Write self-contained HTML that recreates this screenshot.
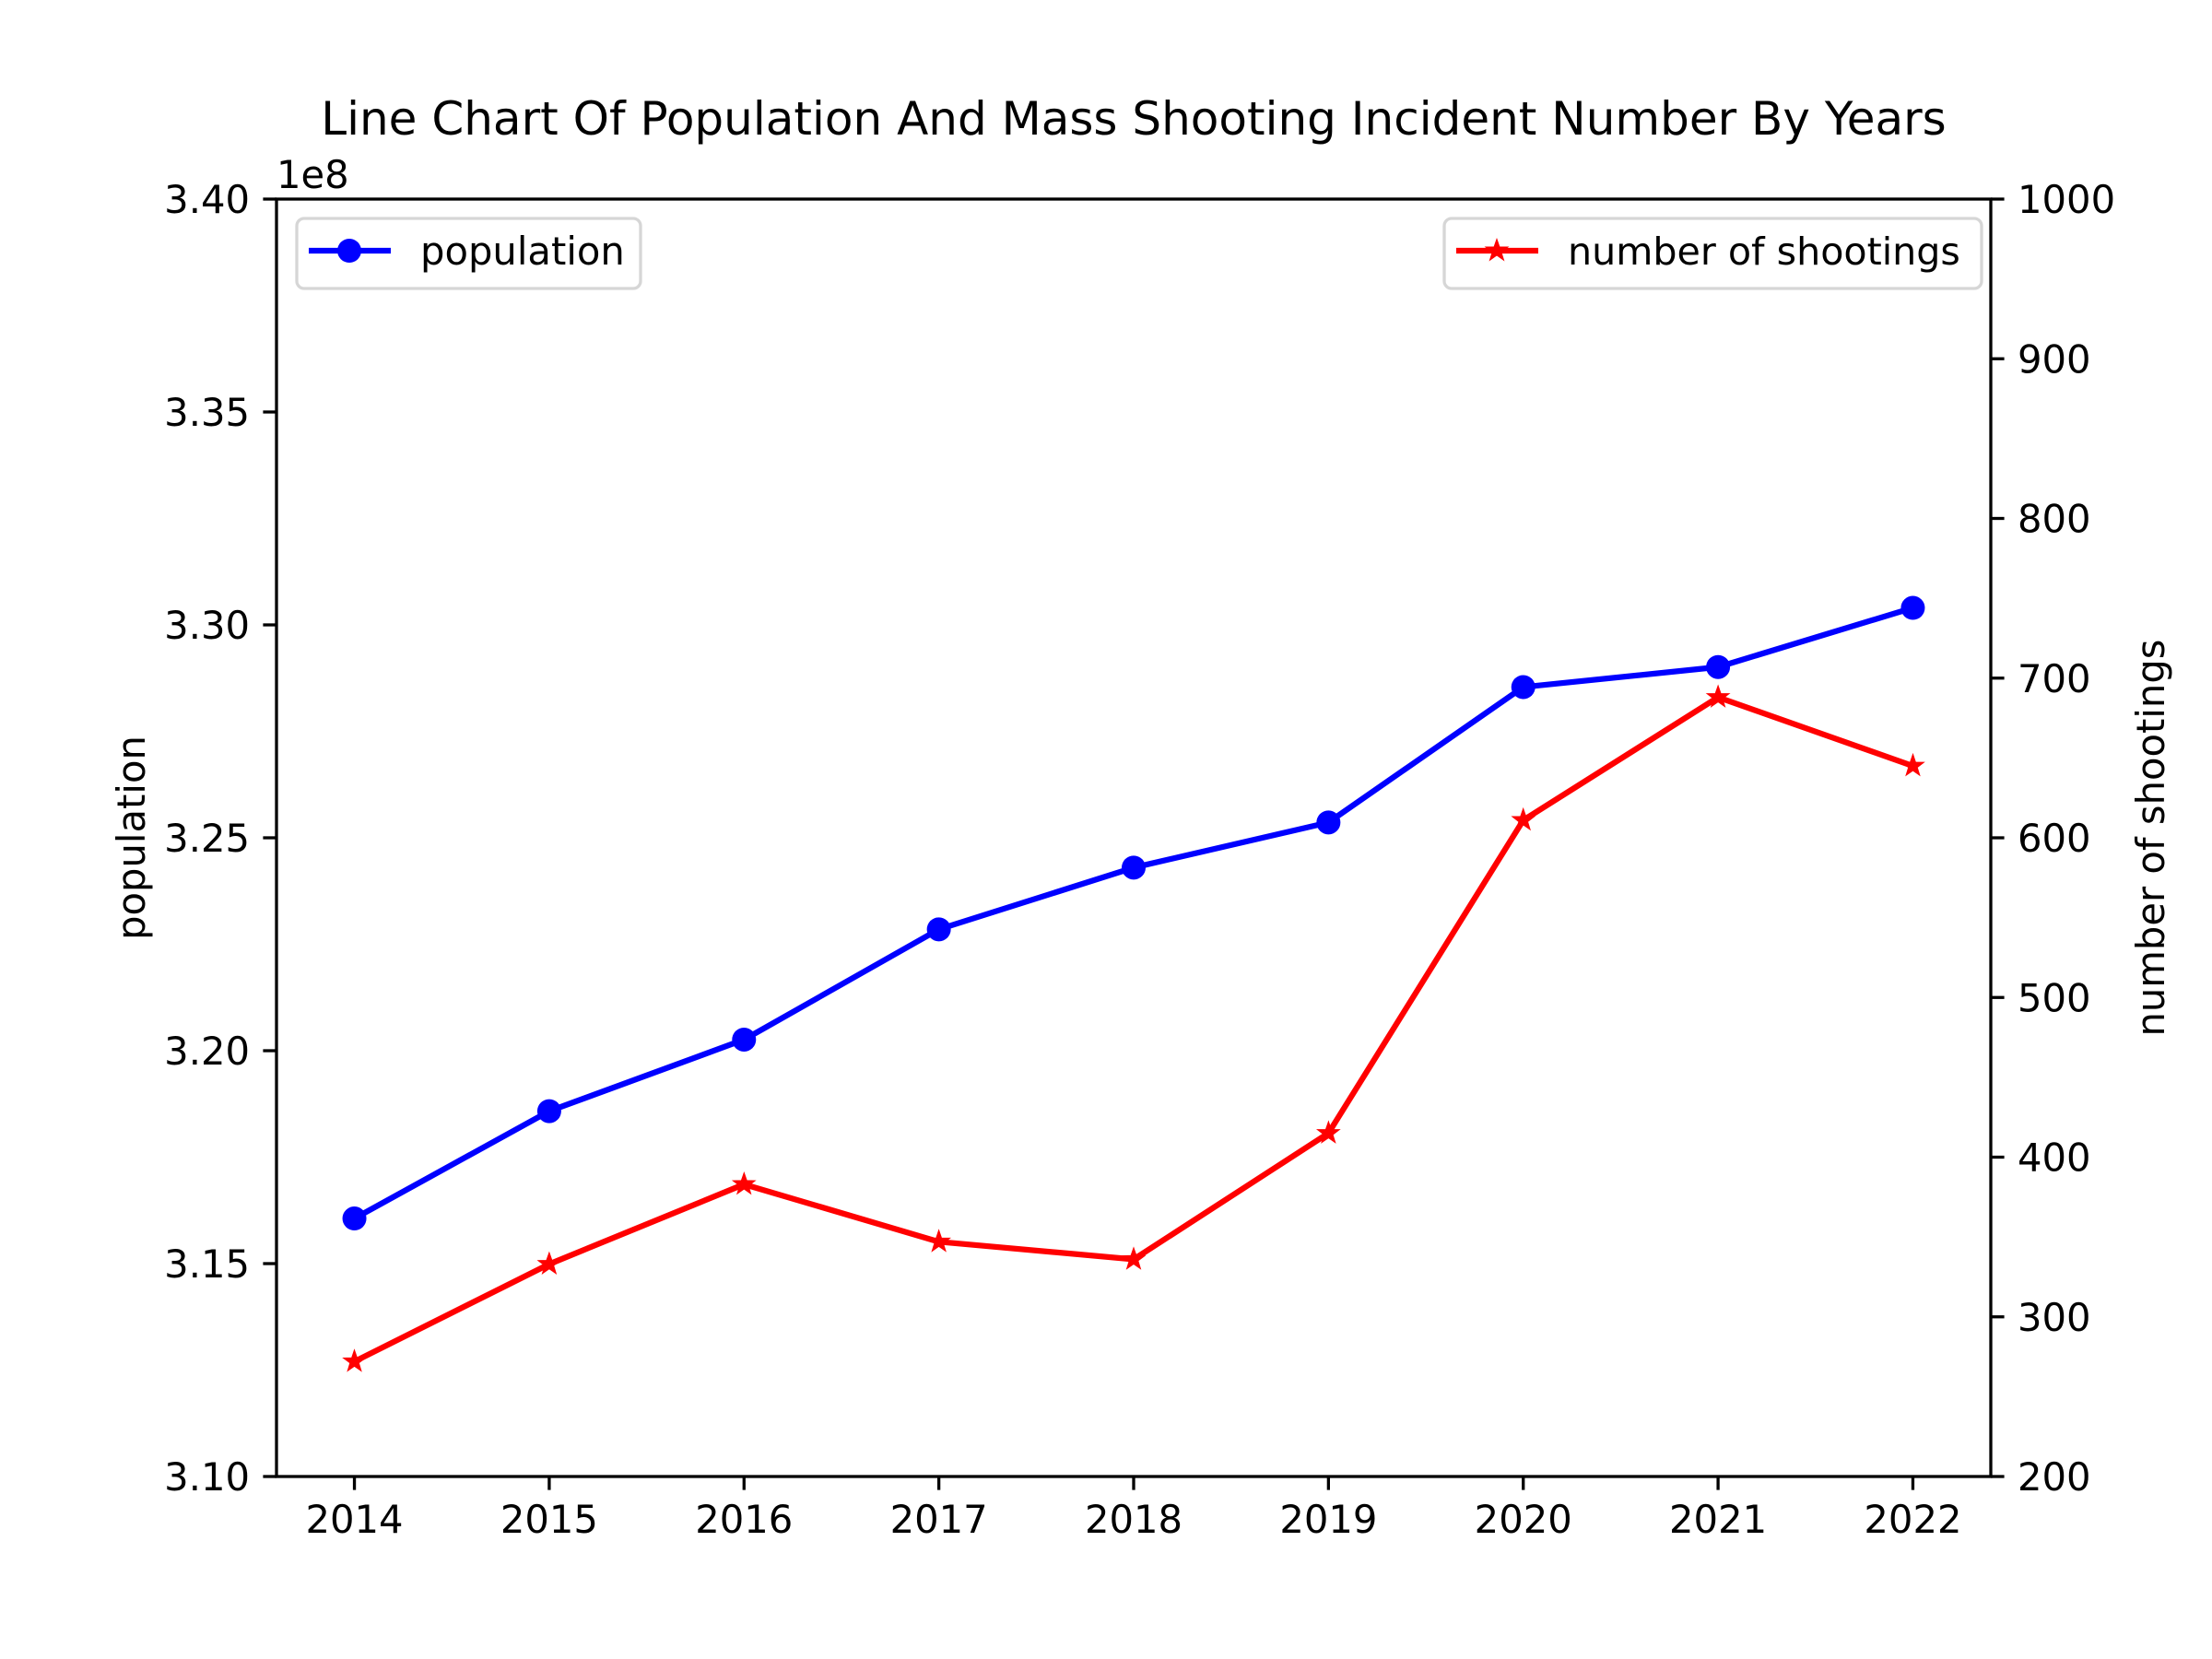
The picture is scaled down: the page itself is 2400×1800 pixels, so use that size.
<!DOCTYPE html>
<html><head><meta charset="utf-8"><style>html,body{margin:0;padding:0;background:#fff}svg{display:block}text{font-family:"DejaVu Sans","Liberation Sans",sans-serif;fill:#000}</style></head>
<body>
<svg id="chart" width="2400" height="1800" viewBox="0 0 2400 1800" xmlns="http://www.w3.org/2000/svg">
<rect width="2400" height="1800" fill="#fff"/>
<text x="1230" y="146" font-size="50" text-anchor="middle">Line Chart Of Population And Mass Shooting Incident Number By Years</text>
<g id="grid"></g>
<g id="series"></g>
<rect x="300" y="216" width="1860" height="1386" fill="none" stroke="#000" stroke-width="3.3"/>
<g id="axes"></g>
<text transform="translate(157,909) rotate(-90)" font-size="41.7" text-anchor="middle">population</text>
<text transform="translate(2348,909) rotate(-90)" font-size="41.7" text-anchor="middle">number of shootings</text>
<text x="300" y="204" font-size="41.7">1e8</text>
<g>
<rect x="322" y="237" width="373" height="76" rx="8" fill="#fff" fill-opacity="0.8" stroke="#d6d6d6" stroke-width="3.3"/>
<line x1="335" y1="272" x2="424" y2="272" stroke="#0000ff" stroke-width="6.25"/>
<circle cx="379" cy="272" r="13" fill="#0000ff"/>
<text x="456" y="287" font-size="41.7">population</text>
</g>
<g>
<rect x="1567" y="237" width="583" height="76" rx="8" fill="#fff" fill-opacity="0.8" stroke="#d6d6d6" stroke-width="3.3"/>
<line x1="1580" y1="272" x2="1669" y2="272" stroke="#ff0000" stroke-width="6.25"/>
<path d="M1624,261 L1626.6,268.5 L1634.5,268.5 L1628.2,273.3 L1630.6,281 L1624,276.3 L1617.4,281 L1619.8,273.3 L1613.5,268.5 L1621.4,268.5 Z" fill="#ff0000" stroke="#ff0000" stroke-width="2"/>
<text x="1701" y="287" font-size="41.2">number of shootings</text>
</g>
</svg>
<script>
const years = [2014,2015,2016,2017,2018,2019,2020,2021,2022];
const population = [3.1606e8,3.1858e8,3.2026e8,3.2285e8,3.2430e8,3.2536e8,3.2854e8,3.2901e8,3.3040e8];
const shootings = [272,333,383,347,336,415,611,688,645];
const leftTicks = [3.10,3.15,3.20,3.25,3.30,3.35,3.40];
const rightTicks = [200,300,400,500,600,700,800,900,1000];
const NS='http://www.w3.org/2000/svg';
const L=300,R=2160,T=216,B=1602;
const x=v=>L+(v-2013.6)/8.8*(R-L);
const yl=v=>B-(v/1e8-3.10)/0.30*(B-T);
const yr=v=>B-(v-200)/800*(B-T);
function mk(tag,attrs,parent){const e=document.createElementNS(NS,tag);for(const k in attrs)e.setAttribute(k,attrs[k]);parent.appendChild(e);return e;}
const axes=document.getElementById('axes'),ser=document.getElementById('series');
years.forEach(yv=>{const px=x(yv);
const t=mk('line',{x1:px,x2:px,y1:B,y2:B+14.6,stroke:'#000','stroke-width':3.3},axes);


const lb=mk('text',{x:px,y:B+61,'font-size':41.7,'text-anchor':'middle'},axes);lb.textContent=yv;

});
leftTicks.forEach(v=>{const py=yl(v*1e8);
const t=mk('line',{x1:L-14.6,x2:L,y1:py,y2:py,stroke:'#000','stroke-width':3.3},axes);


const lb=mk('text',{x:L-29,y:py+15,'font-size':41.7,'text-anchor':'end'},axes);lb.textContent=v.toFixed(2);

});
rightTicks.forEach(v=>{const py=yr(v);
const t=mk('line',{x1:R,x2:R+14.6,y1:py,y2:py,stroke:'#000','stroke-width':3.3},axes);


const lb=mk('text',{x:R+29,y:py+15,'font-size':41.7},axes);lb.textContent=v;

});
const pl=mk('polyline',{points:years.map((v,i)=>x(v)+','+yl(population[i])).join(' '),fill:'none',stroke:'#0000ff','stroke-width':6.25,'stroke-linejoin':'round'},ser);


years.forEach((v,i)=>{const c=mk('circle',{cx:x(v),cy:yl(population[i]),r:13,fill:'#0000ff'},ser);

});
const sl=mk('polyline',{points:years.map((v,i)=>x(v)+','+yr(shootings[i])).join(' '),fill:'none',stroke:'#ff0000','stroke-width':6.25,'stroke-linejoin':'round'},ser);


function star(cx,cy,r){let p=[];for(let k=0;k<10;k++){const a=-Math.PI/2+k*Math.PI/5;const rr=k%2?r*0.4:r;p.push((cx+rr*Math.cos(a)).toFixed(1)+','+(cy+rr*Math.sin(a)).toFixed(1));}return p.join(' ');}
years.forEach((v,i)=>{const s=mk('polygon',{points:star(x(v),yr(shootings[i]),11),fill:'#ff0000',stroke:'#ff0000','stroke-width':2},ser);

});
</script>
</body></html>
